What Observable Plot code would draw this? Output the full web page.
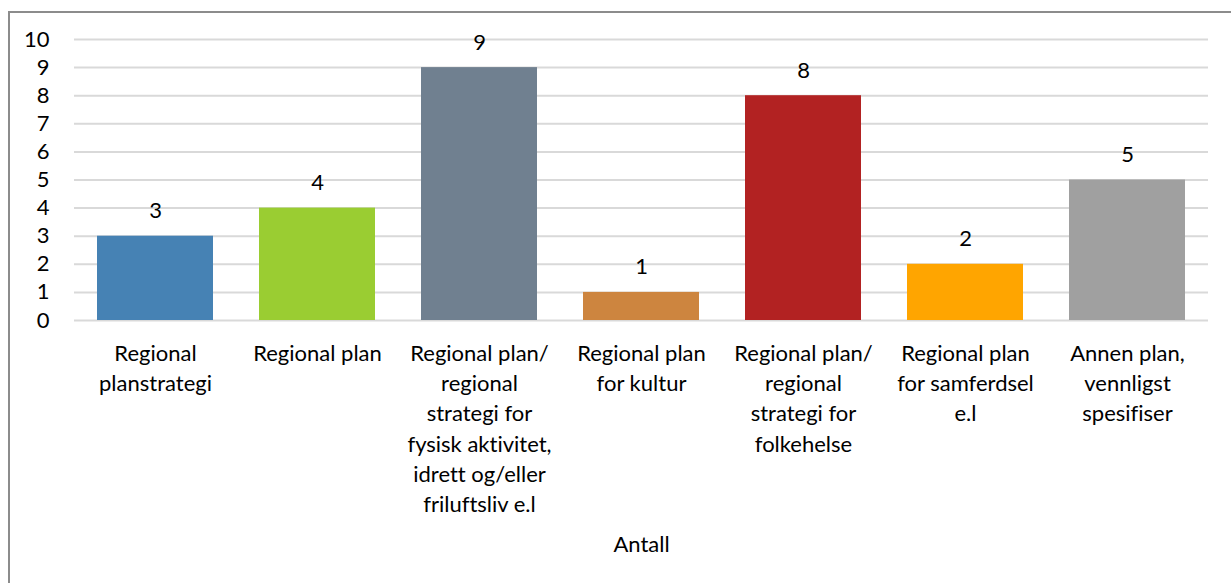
<!DOCTYPE html>
<html>
<head>
<meta charset="utf-8">
<script src="https://cdn.jsdelivr.net/npm/d3@7"></script>
<script src="https://cdn.jsdelivr.net/npm/@observablehq/plot@0.6"></script>
<style>
  html, body { margin: 0; padding: 0; background: #fff; }
  #wrap { position: relative; width: 1231px; height: 583px; overflow: hidden; }
  #frame { position: absolute; left: 8px; top: 11px; width: 1300px; height: 700px;
           border-left: 2px solid #8c8c8c; border-top: 2px solid #8c8c8c; box-sizing: border-box; }
  #chart { position: absolute; left: 0; top: 0; }
  #chart svg { background: transparent; font-variant-ligatures: none; }
</style>
</head>
<body>
<div id="wrap"><div id="frame"></div><div id="chart"></div></div>
<script>
const categories = [
  "Regional planstrategi",
  "Regional plan",
  "Regional plan/ regional strategi for fysisk aktivitet, idrett og/eller friluftsliv e.l",
  "Regional plan for kultur",
  "Regional plan/ regional strategi for folkehelse",
  "Regional plan for samferdsel e.l",
  "Annen plan, vennligst spesifiser"
];
const tickLabels = [
  "Regional\nplanstrategi",
  "Regional plan",
  "Regional plan/\nregional\nstrategi for\nfysisk aktivitet,\nidrett og/eller\nfriluftsliv e.l",
  "Regional plan\nfor kultur",
  "Regional plan/\nregional\nstrategi for\nfolkehelse",
  "Regional plan\nfor samferdsel\ne.l",
  "Annen plan,\nvennligst\nspesifiser"
];
const values = [3, 4, 9, 1, 8, 2, 5];
const colors = ["#4682B4", "#9ACD32", "#708090", "#CD853F", "#B22222", "#FFA500", "#A0A0A0"];
const yTicks = [0, 1, 2, 3, 4, 5, 6, 7, 8, 9, 10];
const axisTitle = "Antall";

const data = categories.map((c, i) => ({cat: c, value: values[i], color: colors[i]}));
const labelOf = new Map(categories.map((c, i) => [c, tickLabels[i]]));

const chart = Plot.plot({
  width: 1231,
  height: 583,
  marginLeft: 74,
  marginRight: 23,
  marginTop: 39,
  marginBottom: 263,
  style: {fontFamily: "Lato, sans-serif", fontSize: "22px", color: "#000", background: "transparent"},
  x: {domain: categories, paddingInner: 0.284, paddingOuter: 0.142, label: null},
  y: {domain: [0, 10], label: null},
  marks: [
    Plot.ruleY(yTicks, {stroke: "#d9d9d9", strokeWidth: 2}),
    Plot.barY(data, {x: "cat", y: "value", fill: "color"}),
    Plot.text(data, {x: "cat", y: "value", text: d => String(d.value), dy: -18, lineAnchor: "bottom", fill: "#000", fontSize: 22}),
    Plot.axisY({ticks: yTicks, tickSize: 0, tickPadding: 25, tickFormat: d => String(d), fontSize: 22, fill: "#000"}),
    Plot.axisX({tickSize: 0, tickPadding: 19, tickFormat: d => labelOf.get(d), lineHeight: 1.375, fontSize: 22, fill: "#000"}),
    Plot.text([axisTitle], {frameAnchor: "bottom", dy: 224, text: d => d, fontSize: 22, fill: "#000", lineAnchor: "middle"})
  ]
});
document.getElementById("chart").appendChild(chart);
</script>
</body>
</html>
